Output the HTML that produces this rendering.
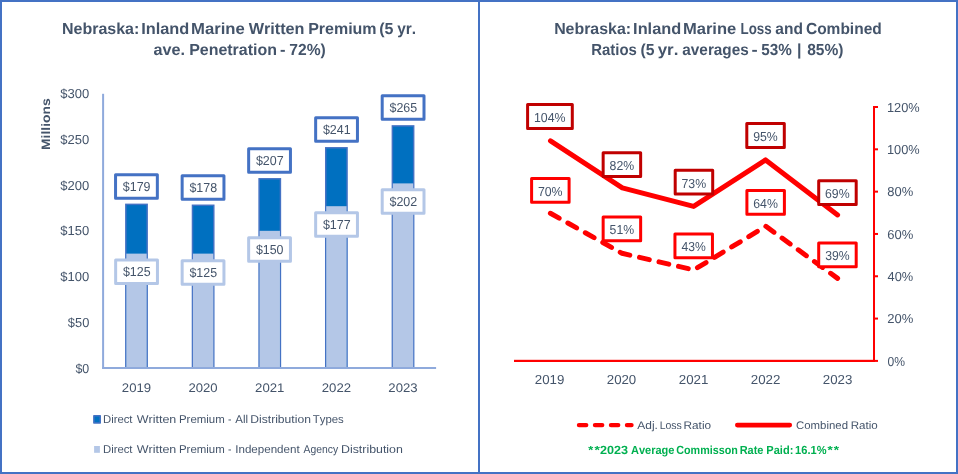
<!DOCTYPE html>
<html><head><meta charset="utf-8"><style>
html,body{margin:0;padding:0;background:#fff;width:958px;height:474px;overflow:hidden;font-family:"Liberation Sans", sans-serif;}
svg{display:block;will-change:transform;font-kerning:none;text-rendering:geometricPrecision;}
</style></head><body>
<svg width="958" height="474" viewBox="0 0 958 474" font-family='"Liberation Sans", sans-serif'>
<rect x="0" y="0" width="958" height="474" fill="#fff"/>
<text x="62.03" y="33.9" font-size="16" font-weight="bold" fill="#44546A" textLength="77.31" lengthAdjust="spacingAndGlyphs">Nebraska:</text>
<text x="141.21" y="33.9" font-size="16" font-weight="bold" fill="#44546A" textLength="48.07" lengthAdjust="spacingAndGlyphs">Inland</text>
<text x="191.09" y="33.9" font-size="16" font-weight="bold" fill="#44546A" textLength="53.68" lengthAdjust="spacingAndGlyphs">Marine</text>
<text x="248.68" y="33.9" font-size="16" font-weight="bold" fill="#44546A" textLength="55.82" lengthAdjust="spacingAndGlyphs">Written</text>
<text x="308.13" y="33.9" font-size="16" font-weight="bold" fill="#44546A" textLength="68.46" lengthAdjust="spacingAndGlyphs">Premium</text>
<text x="379.20" y="33.9" font-size="16" font-weight="bold" fill="#44546A" textLength="14.24" lengthAdjust="spacingAndGlyphs">(5</text>
<text x="397.18" y="33.9" font-size="16" font-weight="bold" fill="#44546A" textLength="18.88" lengthAdjust="spacingAndGlyphs">yr.</text>
<text x="153.53" y="55.0" font-size="16" font-weight="bold" fill="#44546A" textLength="31.49" lengthAdjust="spacingAndGlyphs">ave.</text>
<text x="189.13" y="55.0" font-size="16" font-weight="bold" fill="#44546A" textLength="87.76" lengthAdjust="spacingAndGlyphs">Penetration</text>
<text x="279.95" y="55.0" font-size="16" font-weight="bold" fill="#44546A" textLength="5.51" lengthAdjust="spacingAndGlyphs">-</text>
<text x="289.33" y="55.0" font-size="16" font-weight="bold" fill="#44546A" textLength="36.45" lengthAdjust="spacingAndGlyphs">72%)</text>
<text transform="translate(50.0,149.0) rotate(-90)" x="-0.93" y="0" font-size="12.2" font-weight="bold" fill="#44546A" textLength="51.60" lengthAdjust="spacingAndGlyphs">Millions</text>
<text x="75.47" y="372.7" font-size="13" fill="#44546A" textLength="13.82" lengthAdjust="spacingAndGlyphs">$0</text>
<text x="67.86" y="326.9" font-size="13" fill="#44546A" textLength="21.44" lengthAdjust="spacingAndGlyphs">$50</text>
<text x="60.36" y="281.1" font-size="13" fill="#44546A" textLength="28.95" lengthAdjust="spacingAndGlyphs">$100</text>
<text x="60.36" y="235.3" font-size="13" fill="#44546A" textLength="28.95" lengthAdjust="spacingAndGlyphs">$150</text>
<text x="60.36" y="189.5" font-size="13" fill="#44546A" textLength="28.95" lengthAdjust="spacingAndGlyphs">$200</text>
<text x="60.36" y="143.7" font-size="13" fill="#44546A" textLength="28.95" lengthAdjust="spacingAndGlyphs">$250</text>
<text x="60.36" y="97.9" font-size="13" fill="#44546A" textLength="28.95" lengthAdjust="spacingAndGlyphs">$300</text>
<rect x="125.85" y="204.37" width="21.30" height="163.63" fill="#0070C0" stroke="#4472C4" stroke-width="1.5"/>
<rect x="126.30" y="253.62" width="20.40" height="114.38" fill="#B4C7E7"/>
<rect x="192.48" y="205.28" width="21.30" height="162.72" fill="#0070C0" stroke="#4472C4" stroke-width="1.5"/>
<rect x="192.93" y="253.62" width="20.40" height="114.38" fill="#B4C7E7"/>
<rect x="259.11" y="178.82" width="21.30" height="189.18" fill="#0070C0" stroke="#4472C4" stroke-width="1.5"/>
<rect x="259.56" y="230.82" width="20.40" height="137.18" fill="#B4C7E7"/>
<rect x="325.74" y="147.81" width="21.30" height="220.19" fill="#0070C0" stroke="#4472C4" stroke-width="1.5"/>
<rect x="326.19" y="206.19" width="20.40" height="161.81" fill="#B4C7E7"/>
<rect x="392.37" y="125.92" width="21.30" height="242.08" fill="#0070C0" stroke="#4472C4" stroke-width="1.5"/>
<rect x="392.82" y="183.39" width="20.40" height="184.61" fill="#B4C7E7"/>
<rect x="102.1" y="93.8" width="2" height="275" fill="#8FAADC"/>
<rect x="102.1" y="367" width="334" height="2" fill="#8FAADC"/>
<rect x="115.55" y="174.75" width="41.80" height="23.50" fill="#fff" stroke="#4472C4" stroke-width="3" stroke-linejoin="round"/>
<text x="122.82" y="191.0" font-size="13" fill="#44546A" textLength="27.72" lengthAdjust="spacingAndGlyphs">$179</text>
<rect x="182.15" y="175.75" width="41.80" height="23.50" fill="#fff" stroke="#4472C4" stroke-width="3" stroke-linejoin="round"/>
<text x="189.42" y="192.0" font-size="13" fill="#44546A" textLength="27.67" lengthAdjust="spacingAndGlyphs">$178</text>
<rect x="248.65" y="148.75" width="41.80" height="23.50" fill="#fff" stroke="#4472C4" stroke-width="3" stroke-linejoin="round"/>
<text x="255.92" y="165.0" font-size="13" fill="#44546A" textLength="27.76" lengthAdjust="spacingAndGlyphs">$207</text>
<rect x="315.65" y="117.75" width="41.80" height="23.50" fill="#fff" stroke="#4472C4" stroke-width="3" stroke-linejoin="round"/>
<text x="322.92" y="134.0" font-size="13" fill="#44546A" textLength="27.74" lengthAdjust="spacingAndGlyphs">$241</text>
<rect x="382.20" y="95.75" width="41.80" height="23.50" fill="#fff" stroke="#4472C4" stroke-width="3" stroke-linejoin="round"/>
<text x="389.47" y="112.0" font-size="13" fill="#44546A" textLength="27.66" lengthAdjust="spacingAndGlyphs">$265</text>
<rect x="115.65" y="259.90" width="41.80" height="23.50" fill="#fff" stroke="#B4C7E7" stroke-width="3" stroke-linejoin="round"/>
<text x="122.92" y="276.15" font-size="13" fill="#44546A" textLength="27.66" lengthAdjust="spacingAndGlyphs">$125</text>
<rect x="182.15" y="260.65" width="41.80" height="23.50" fill="#fff" stroke="#B4C7E7" stroke-width="3" stroke-linejoin="round"/>
<text x="189.42" y="276.9" font-size="13" fill="#44546A" textLength="27.66" lengthAdjust="spacingAndGlyphs">$125</text>
<rect x="248.65" y="237.80" width="41.80" height="23.50" fill="#fff" stroke="#B4C7E7" stroke-width="3" stroke-linejoin="round"/>
<text x="255.92" y="254.05" font-size="13" fill="#44546A" textLength="27.62" lengthAdjust="spacingAndGlyphs">$150</text>
<rect x="315.65" y="212.80" width="41.80" height="23.50" fill="#fff" stroke="#B4C7E7" stroke-width="3" stroke-linejoin="round"/>
<text x="322.92" y="229.05" font-size="13" fill="#44546A" textLength="27.76" lengthAdjust="spacingAndGlyphs">$177</text>
<rect x="382.20" y="189.75" width="41.80" height="23.50" fill="#fff" stroke="#B4C7E7" stroke-width="3" stroke-linejoin="round"/>
<text x="389.47" y="206.0" font-size="13" fill="#44546A" textLength="27.76" lengthAdjust="spacingAndGlyphs">$202</text>
<text x="121.84" y="391.8" font-size="12.5" fill="#44546A" textLength="29.29" lengthAdjust="spacingAndGlyphs">2019</text>
<text x="188.47" y="391.8" font-size="12.5" fill="#44546A" textLength="29.17" lengthAdjust="spacingAndGlyphs">2020</text>
<text x="255.10" y="391.8" font-size="12.5" fill="#44546A" textLength="29.31" lengthAdjust="spacingAndGlyphs">2021</text>
<text x="321.73" y="391.8" font-size="12.5" fill="#44546A" textLength="29.33" lengthAdjust="spacingAndGlyphs">2022</text>
<text x="388.36" y="391.8" font-size="12.5" fill="#44546A" textLength="29.24" lengthAdjust="spacingAndGlyphs">2023</text>
<rect x="93.85" y="415.85" width="6.4" height="7.1" fill="#0070C0" stroke="#4472C4" stroke-width="1.5" stroke-linejoin="round"/>
<rect x="94.1" y="446" width="5.8" height="6.8" fill="#B4C7E7"/>
<text x="102.97" y="423.0" font-size="11.4" fill="#44546A" textLength="29.51" lengthAdjust="spacingAndGlyphs">Direct</text>
<text x="136.75" y="423.0" font-size="11.4" fill="#44546A" textLength="39.57" lengthAdjust="spacingAndGlyphs">Written</text>
<text x="178.96" y="423.0" font-size="11.4" fill="#44546A" textLength="45.79" lengthAdjust="spacingAndGlyphs">Premium</text>
<text x="228.03" y="423.0" font-size="11.4" fill="#44546A" textLength="3.55" lengthAdjust="spacingAndGlyphs">-</text>
<text x="235.38" y="423.0" font-size="11.4" fill="#44546A" textLength="12.79" lengthAdjust="spacingAndGlyphs">All</text>
<text x="250.31" y="423.0" font-size="11.4" fill="#44546A" textLength="60.58" lengthAdjust="spacingAndGlyphs">Distribution</text>
<text x="312.74" y="423.0" font-size="11.4" fill="#44546A" textLength="31.07" lengthAdjust="spacingAndGlyphs">Types</text>
<text x="102.97" y="452.9" font-size="11.4" fill="#44546A" textLength="29.51" lengthAdjust="spacingAndGlyphs">Direct</text>
<text x="136.75" y="452.9" font-size="11.4" fill="#44546A" textLength="39.57" lengthAdjust="spacingAndGlyphs">Written</text>
<text x="178.96" y="452.9" font-size="11.4" fill="#44546A" textLength="45.79" lengthAdjust="spacingAndGlyphs">Premium</text>
<text x="228.03" y="452.9" font-size="11.4" fill="#44546A" textLength="3.55" lengthAdjust="spacingAndGlyphs">-</text>
<text x="235.23" y="452.9" font-size="11.4" fill="#44546A" textLength="64.45" lengthAdjust="spacingAndGlyphs">Independent</text>
<text x="303.58" y="452.9" font-size="11.4" fill="#44546A" textLength="34.54" lengthAdjust="spacingAndGlyphs">Agency</text>
<text x="340.98" y="452.9" font-size="11.4" fill="#44546A" textLength="61.92" lengthAdjust="spacingAndGlyphs">Distribution</text>
<text x="554.14" y="33.7" font-size="16" font-weight="bold" fill="#44546A" textLength="76.89" lengthAdjust="spacingAndGlyphs">Nebraska:</text>
<text x="633.11" y="33.7" font-size="16" font-weight="bold" fill="#44546A" textLength="48.07" lengthAdjust="spacingAndGlyphs">Inland</text>
<text x="682.99" y="33.7" font-size="16" font-weight="bold" fill="#44546A" textLength="53.27" lengthAdjust="spacingAndGlyphs">Marine</text>
<text x="740.51" y="33.7" font-size="16" font-weight="bold" fill="#44546A" textLength="31.14" lengthAdjust="spacingAndGlyphs">Loss</text>
<text x="775.35" y="33.7" font-size="16" font-weight="bold" fill="#44546A" textLength="27.58" lengthAdjust="spacingAndGlyphs">and</text>
<text x="805.96" y="33.7" font-size="16" font-weight="bold" fill="#44546A" textLength="75.76" lengthAdjust="spacingAndGlyphs">Combined</text>
<text x="591.20" y="54.6" font-size="16" font-weight="bold" fill="#44546A" textLength="45.61" lengthAdjust="spacingAndGlyphs">Ratios</text>
<text x="640.41" y="54.6" font-size="16" font-weight="bold" fill="#44546A" textLength="14.02" lengthAdjust="spacingAndGlyphs">(5</text>
<text x="657.67" y="54.6" font-size="16" font-weight="bold" fill="#44546A" textLength="20.70" lengthAdjust="spacingAndGlyphs">yr.</text>
<text x="682.35" y="54.6" font-size="16" font-weight="bold" fill="#44546A" textLength="66.38" lengthAdjust="spacingAndGlyphs">averages</text>
<text x="751.48" y="54.6" font-size="16" font-weight="bold" fill="#44546A" textLength="6.16" lengthAdjust="spacingAndGlyphs">-</text>
<text x="761.33" y="54.6" font-size="16" font-weight="bold" fill="#44546A" textLength="30.57" lengthAdjust="spacingAndGlyphs">53%</text>
<text x="797.11" y="54.6" font-size="16" font-weight="bold" fill="#44546A">|</text>
<text x="807.21" y="54.6" font-size="16" font-weight="bold" fill="#44546A" textLength="36.27" lengthAdjust="spacingAndGlyphs">85%)</text>
<rect x="514" y="359.8" width="361" height="2.2" fill="#FF0000"/>
<rect x="873" y="106" width="2" height="256" fill="#FF0000"/>
<rect x="874" y="359.90" width="4" height="2" fill="#FF0000"/>
<text x="887.43" y="365.7" font-size="13" fill="#44546A" textLength="17.50" lengthAdjust="spacingAndGlyphs">0%</text>
<rect x="874" y="317.58" width="4" height="2" fill="#FF0000"/>
<text x="887.25" y="323.38" font-size="13" fill="#44546A" textLength="26.02" lengthAdjust="spacingAndGlyphs">20%</text>
<rect x="874" y="275.27" width="4" height="2" fill="#FF0000"/>
<text x="887.61" y="281.07" font-size="13" fill="#44546A" textLength="25.65" lengthAdjust="spacingAndGlyphs">40%</text>
<rect x="874" y="232.95" width="4" height="2" fill="#FF0000"/>
<text x="887.24" y="238.75" font-size="13" fill="#44546A" textLength="26.02" lengthAdjust="spacingAndGlyphs">60%</text>
<rect x="874" y="190.64" width="4" height="2" fill="#FF0000"/>
<text x="887.34" y="196.44" font-size="13" fill="#44546A" textLength="25.92" lengthAdjust="spacingAndGlyphs">80%</text>
<rect x="874" y="148.32" width="4" height="2" fill="#FF0000"/>
<text x="886.93" y="154.12" font-size="13" fill="#44546A" textLength="32.73" lengthAdjust="spacingAndGlyphs">100%</text>
<rect x="874" y="106.00" width="4" height="2" fill="#FF0000"/>
<text x="886.93" y="111.8" font-size="13" fill="#44546A" textLength="32.73" lengthAdjust="spacingAndGlyphs">120%</text>
<text x="534.78" y="383.9" font-size="13" fill="#44546A" textLength="29.60" lengthAdjust="spacingAndGlyphs">2019</text>
<text x="606.78" y="383.9" font-size="13" fill="#44546A" textLength="29.48" lengthAdjust="spacingAndGlyphs">2020</text>
<text x="678.78" y="383.9" font-size="13" fill="#44546A" textLength="29.62" lengthAdjust="spacingAndGlyphs">2021</text>
<text x="750.78" y="383.9" font-size="13" fill="#44546A" textLength="29.64" lengthAdjust="spacingAndGlyphs">2022</text>
<text x="822.78" y="383.9" font-size="13" fill="#44546A" textLength="29.55" lengthAdjust="spacingAndGlyphs">2023</text>
<polyline points="550.40,213.30 622.00,253.29 693.80,269.92 765.80,226.29 837.60,278.38" fill="none" stroke="#FF0000" stroke-width="5" stroke-dasharray="10 10" stroke-dashoffset="0" stroke-linecap="round" stroke-linejoin="round"/>
<polyline points="550.50,140.86 622.30,187.90 693.60,206.45 765.60,159.90 837.60,214.91" fill="none" stroke="#FF0000" stroke-width="5" stroke-linecap="round" stroke-linejoin="round"/>
<rect x="527.60" y="104.60" width="44.70" height="23.80" fill="#fff" stroke="#C00000" stroke-width="3" stroke-linejoin="round"/>
<text x="533.91" y="121.9" font-size="13" fill="#44546A" textLength="31.58" lengthAdjust="spacingAndGlyphs">104%</text>
<rect x="603.15" y="152.80" width="37.50" height="23.80" fill="#fff" stroke="#C00000" stroke-width="3" stroke-linejoin="round"/>
<text x="609.57" y="170.1" font-size="13" fill="#44546A" textLength="24.57" lengthAdjust="spacingAndGlyphs">82%</text>
<rect x="675.20" y="170.25" width="37.50" height="23.80" fill="#fff" stroke="#C00000" stroke-width="3" stroke-linejoin="round"/>
<text x="681.52" y="187.55" font-size="13" fill="#44546A" textLength="24.67" lengthAdjust="spacingAndGlyphs">73%</text>
<rect x="746.80" y="123.60" width="37.50" height="23.80" fill="#fff" stroke="#C00000" stroke-width="3" stroke-linejoin="round"/>
<text x="753.17" y="140.9" font-size="13" fill="#44546A" textLength="24.61" lengthAdjust="spacingAndGlyphs">95%</text>
<rect x="818.70" y="180.70" width="37.50" height="23.80" fill="#fff" stroke="#C00000" stroke-width="3" stroke-linejoin="round"/>
<text x="825.02" y="198.0" font-size="13" fill="#44546A" textLength="24.67" lengthAdjust="spacingAndGlyphs">69%</text>
<rect x="531.60" y="178.45" width="37.50" height="23.80" fill="#fff" stroke="#FF0000" stroke-width="3" stroke-linejoin="round"/>
<text x="537.92" y="195.75" font-size="13" fill="#44546A" textLength="24.67" lengthAdjust="spacingAndGlyphs">70%</text>
<rect x="603.15" y="216.90" width="37.50" height="23.80" fill="#fff" stroke="#FF0000" stroke-width="3" stroke-linejoin="round"/>
<text x="609.61" y="234.2" font-size="13" fill="#44546A" textLength="24.53" lengthAdjust="spacingAndGlyphs">51%</text>
<rect x="674.95" y="233.95" width="37.50" height="23.80" fill="#fff" stroke="#FF0000" stroke-width="3" stroke-linejoin="round"/>
<text x="681.62" y="251.25" font-size="13" fill="#44546A" textLength="24.31" lengthAdjust="spacingAndGlyphs">43%</text>
<rect x="746.90" y="190.55" width="37.50" height="23.80" fill="#fff" stroke="#FF0000" stroke-width="3" stroke-linejoin="round"/>
<text x="753.22" y="207.85" font-size="13" fill="#44546A" textLength="24.67" lengthAdjust="spacingAndGlyphs">64%</text>
<rect x="818.70" y="243.05" width="37.50" height="23.80" fill="#fff" stroke="#FF0000" stroke-width="3" stroke-linejoin="round"/>
<text x="825.18" y="260.35" font-size="13" fill="#44546A" textLength="24.50" lengthAdjust="spacingAndGlyphs">39%</text>
<line x1="579" y1="425.1" x2="631.5" y2="425.1" stroke="#FF0000" stroke-width="4.4" stroke-dasharray="7.2 8.8" stroke-linecap="round"/>
<text x="637.28" y="428.9" font-size="11" fill="#44546A" textLength="20.62" lengthAdjust="spacingAndGlyphs">Adj.</text>
<text x="659.64" y="428.9" font-size="11" fill="#44546A" textLength="22.24" lengthAdjust="spacingAndGlyphs">Loss</text>
<text x="683.53" y="428.9" font-size="11" fill="#44546A" textLength="27.56" lengthAdjust="spacingAndGlyphs">Ratio</text>
<line x1="737.3" y1="425.1" x2="789.8" y2="425.1" stroke="#FF0000" stroke-width="4.6" stroke-linecap="round"/>
<text x="796.02" y="428.9" font-size="11" fill="#44546A" textLength="52.02" lengthAdjust="spacingAndGlyphs">Combined</text>
<text x="850.65" y="428.9" font-size="11" fill="#44546A" textLength="27.04" lengthAdjust="spacingAndGlyphs">Ratio</text>
<text x="600.06" y="453.9" font-size="11.8" font-weight="bold" fill="#00B050" textLength="28.09" lengthAdjust="spacingAndGlyphs">2023</text>
<text x="631.03" y="453.9" font-size="11.8" font-weight="bold" fill="#00B050" textLength="43.45" lengthAdjust="spacingAndGlyphs">Average</text>
<text x="676.26" y="453.9" font-size="11.8" font-weight="bold" fill="#00B050" textLength="61.61" lengthAdjust="spacingAndGlyphs">Commisson</text>
<text x="739.67" y="453.9" font-size="11.8" font-weight="bold" fill="#00B050" textLength="23.81" lengthAdjust="spacingAndGlyphs">Rate</text>
<text x="766.36" y="453.9" font-size="11.8" font-weight="bold" fill="#00B050" textLength="27.00" lengthAdjust="spacingAndGlyphs">Paid:</text>
<text x="795.10" y="453.9" font-size="11.8" font-weight="bold" fill="#00B050" textLength="31.39" lengthAdjust="spacingAndGlyphs">16.1%</text>
<text x="588.36" y="453.6" font-size="11.8" font-weight="bold" fill="#00B050" textLength="4.95" lengthAdjust="spacingAndGlyphs">*</text>
<text x="594.56" y="453.6" font-size="11.8" font-weight="bold" fill="#00B050" textLength="5.35" lengthAdjust="spacingAndGlyphs">*</text>
<text x="827.56" y="453.6" font-size="11.8" font-weight="bold" fill="#00B050" textLength="5.25" lengthAdjust="spacingAndGlyphs">*</text>
<text x="833.66" y="453.6" font-size="11.8" font-weight="bold" fill="#00B050" textLength="5.25" lengthAdjust="spacingAndGlyphs">*</text>
<rect x="1" y="1" width="956" height="472" fill="none" stroke="#4472C4" stroke-width="2"/>
<rect x="478" y="0" width="2" height="474" fill="#4472C4"/>
</svg>
</body></html>
